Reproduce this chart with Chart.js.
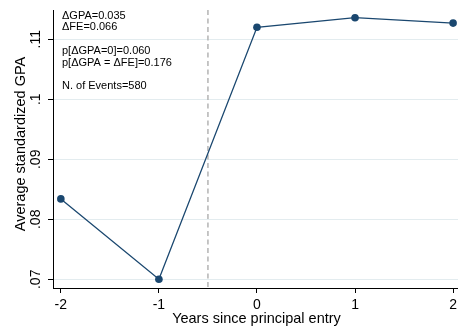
<!DOCTYPE html>
<html>
<head>
<meta charset="utf-8">
<script src="https://cdn.jsdelivr.net/npm/chart.js@4/dist/chart.umd.min.js"></script>
<style>
  html, body { margin: 0; padding: 0; background: #ffffff; }
  #wrap { width: 458px; height: 328px; position: relative; }
</style>
</head>
<body>
<div id="wrap"><canvas id="c" width="458" height="328"></canvas></div>
<script>
// Event-study estimates: average standardized GPA by year relative to principal entry
const years = [-2, -1, 0, 1, 2];
const gpa = [0.0834, 0.0700, 0.1120, 0.1136, 0.1127];

const xTicks = [-2, -1, 0, 1, 2];
const xTickLabels = ['-2', '-1', '0', '1', '2'];
const yTicks = [0.07, 0.08, 0.09, 0.10, 0.11];
const yTickLabels = ['.07', '.08', '.09', '.1', '.11'];

const entryLine = -0.5;

const statsLines = [
  ['ΔGPA=0.035', 0],
  ['ΔFE=0.066', 1],
  ['p[ΔGPA=0]=0.060', 3],
  ['p[ΔGPA = ΔFE]=0.176', 4],
  ['N. of Events=580', 6]
];

const xTitle = 'Years since principal entry';
const yTitle = 'Average standardized GPA';

const FONT = '"Liberation Sans", Arial, Helvetica, sans-serif';
const NAVY = '#1a476f';

const textPlugin = {
  id: 'stataText',
  beforeDatasetsDraw(chart) {
    const { ctx, chartArea, scales } = chart;
    const x = scales.x.getPixelForValue(entryLine);
    ctx.save();
    ctx.strokeStyle = '#b4b4b4';
    ctx.lineWidth = 1.5;
    ctx.setLineDash([5, 3.5]);
    ctx.beginPath();
    ctx.moveTo(x, chartArea.top);
    ctx.lineTo(x, chartArea.bottom);
    ctx.stroke();
    ctx.restore();
  },
  afterDraw(chart) {
    const { ctx, chartArea, scales } = chart;
    ctx.save();
    ctx.fillStyle = '#000000';

    // y tick labels, rotated
    ctx.font = '14px ' + FONT;
    ctx.textAlign = 'center';
    ctx.textBaseline = 'alphabetic';
    yTicks.forEach((v, i) => {
      const py = scales.y.getPixelForValue(v);
      ctx.save();
      ctx.translate(40, py);
      ctx.rotate(-Math.PI / 2);
      ctx.fillText(yTickLabels[i], 0, 0);
      ctx.restore();
    });

    // x tick labels
    xTicks.forEach((v, i) => {
      const px = scales.x.getPixelForValue(v);
      ctx.fillText(xTickLabels[i], px, 308.5);
    });

    // axis titles
    ctx.font = '14.5px ' + FONT;
    ctx.fillText(xTitle, 256.5, 323);
    ctx.save();
    ctx.translate(24.5, 144);
    ctx.rotate(-Math.PI / 2);
    ctx.fillText(yTitle, 0, 0);
    ctx.restore();

    // summary statistics box text
    ctx.font = '11px ' + FONT;
    ctx.textAlign = 'left';
    ctx.textBaseline = 'middle';
    statsLines.forEach(([t, row]) => {
      ctx.fillText(t, 62, 15.5 + row * 11.8);
    });
    ctx.restore();
  }
};

new Chart(document.getElementById('c'), {
  type: 'line',
  data: {
    datasets: [{
      data: years.map((y, i) => ({ x: y, y: gpa[i] })),
      borderColor: NAVY,
      backgroundColor: NAVY,
      borderWidth: 1.3,
      pointRadius: 3.8,
      pointBorderWidth: 0,
      pointBackgroundColor: NAVY,
      tension: 0,
      fill: false
    }]
  },
  options: {
    responsive: false,
    animation: false,
    devicePixelRatio: 1,
    layout: { padding: { top: 10, right: 0, left: 0, bottom: 0 }, autoPadding: false },
    plugins: { legend: { display: false }, tooltip: { enabled: false } },
    scales: {
      x: {
        type: 'linear',
        min: -2.08,
        max: 2.05,
        afterBuildTicks(scale) { scale.ticks = xTicks.map(v => ({ value: v })); },
        afterFit(scale) { scale.height = 40; },
        ticks: { display: false },
        grid: { color: 'rgba(0,0,0,0)', tickColor: '#000000', tickLength: 5, drawTicks: true },
        border: { display: true, color: '#000000', width: 1 }
      },
      y: {
        type: 'linear',
        min: 0.06855,
        max: 0.11488,
        afterBuildTicks(scale) { scale.ticks = yTicks.map(v => ({ value: v })); },
        afterFit(scale) { scale.width = 53; },
        ticks: { display: false },
        grid: { color: '#e3ecef', lineWidth: 1, tickColor: '#000000', tickLength: 5, drawTicks: true },
        border: { display: true, color: '#000000', width: 1 }
      }
    }
  },
  plugins: [textPlugin]
});
</script>
</body>
</html>
